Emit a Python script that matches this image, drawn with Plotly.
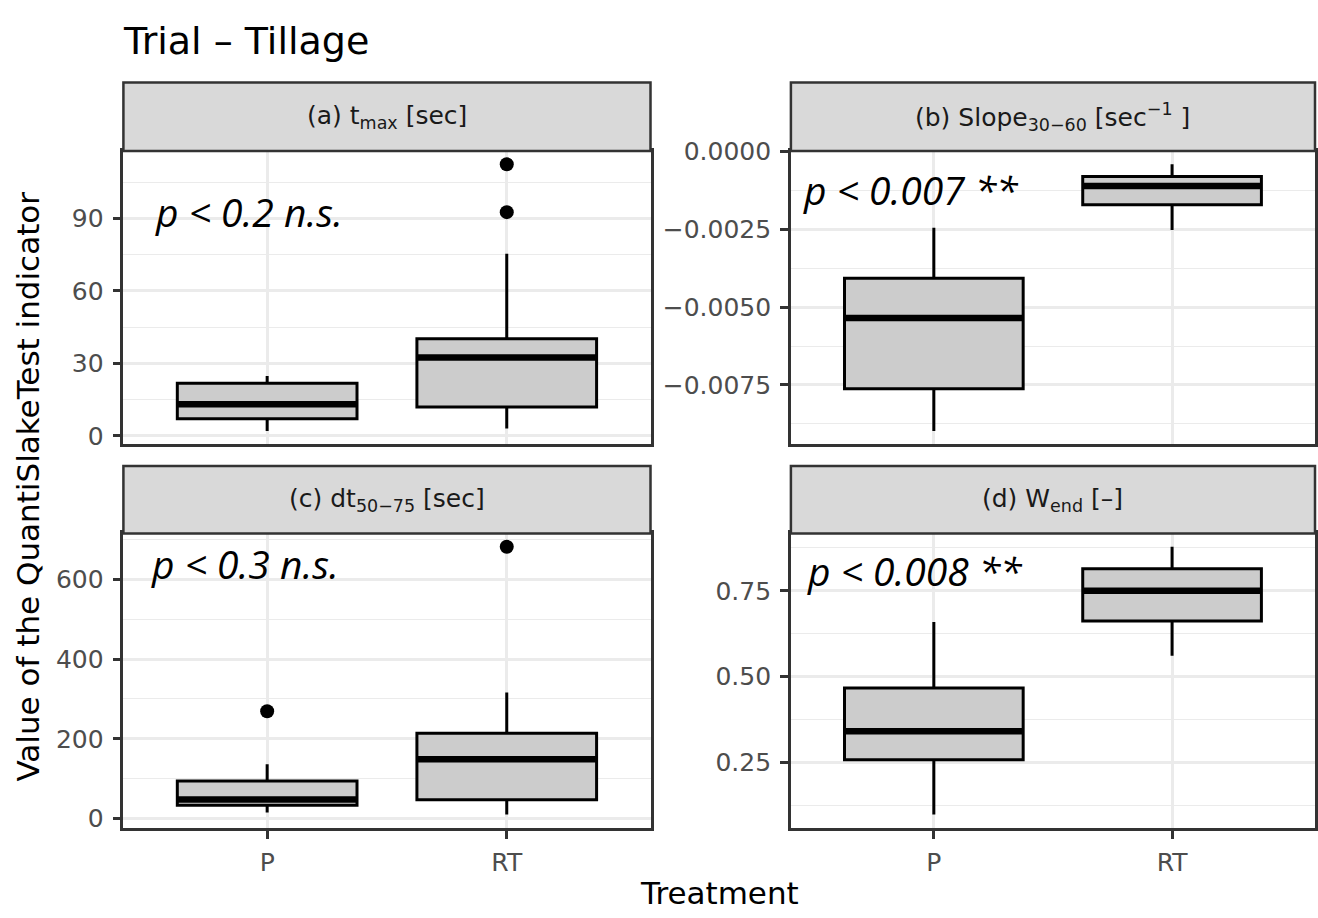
import plotly.graph_objects as go

# ---------------- data ----------------
categories = ["P", "RT"]

panel_titles = [
    "(a) t<sub>max</sub> [sec]",
    "(b) Slope<sub>30−60</sub> [sec<sup>−1</sup> ]",
    "(c) dt<sub>50−75</sub> [sec]",
    "(d) W<sub>end</sub> [–]",
]
p_labels = ["p < 0.2 n.s.", "p < 0.007 **", "p < 0.3 n.s.", "p < 0.008 **"]

# (a) t_max
tmax_lower = [2.0, 3.1]
tmax_q1 = [7.1, 12.0]
tmax_median = [13.1, 32.4]
tmax_q3 = [21.8, 40.2]
tmax_upper = [24.8, 75.4]
tmax_out_cat = ["RT", "RT"]
tmax_out_val = [92.6, 112.4]

# (b) Slope 30-60
slope_lower = [-0.00898, -0.00252]
slope_q1 = [-0.00762, -0.00171]
slope_median = [-0.00535, -0.00111]
slope_q3 = [-0.00407, -0.00080]
slope_upper = [-0.00245, -0.00041]
slope_out_cat = []
slope_out_val = []

# (c) dt 50-75
dt_lower = [14.7, 9.8]
dt_q1 = [32.7, 46.5]
dt_median = [47.3, 148.6]
dt_q3 = [93.9, 214.0]
dt_upper = [136.0, 316.0]
dt_out_cat = ["P", "RT"]
dt_out_val = [269.0, 682.0]

# (d) W_end
wend_lower = [0.099, 0.561]
wend_q1 = [0.258, 0.662]
wend_median = [0.341, 0.750]
wend_q3 = [0.467, 0.814]
wend_upper = [0.659, 0.878]
wend_out_cat = []
wend_out_val = []

# tick labels
tmax_tickvals = [0, 30, 60, 90]
tmax_ticktext = ["0", "30", "60", "90"]
tmax_minor = [15, 45, 75, 105]
slope_tickvals = [0.0, -0.0025, -0.0050, -0.0075]
slope_ticktext = ["0.0000", "−0.0025", "−0.0050", "−0.0075"]
slope_minor = [-0.00125, -0.00375, -0.00625, -0.00875]
dt_tickvals = [0, 200, 400, 600]
dt_ticktext = ["0", "200", "400", "600"]
dt_minor = [100, 300, 500, 700]
wend_tickvals = [0.25, 0.50, 0.75]
wend_ticktext = ["0.25", "0.50", "0.75"]
wend_minor = [0.125, 0.375, 0.625, 0.875]

title_text = "Trial – Tillage"
y_title = "Value of the QuantiSlakeTest indicator"
x_title = "Treatment"

panels = [
    dict(lo=tmax_lower, q1=tmax_q1, med=tmax_median, q3=tmax_q3, hi=tmax_upper,
         oc=tmax_out_cat, ov=tmax_out_val, tv=tmax_tickvals, tt=tmax_ticktext, mn=tmax_minor),
    dict(lo=slope_lower, q1=slope_q1, med=slope_median, q3=slope_q3, hi=slope_upper,
         oc=slope_out_cat, ov=slope_out_val, tv=slope_tickvals, tt=slope_ticktext, mn=slope_minor),
    dict(lo=dt_lower, q1=dt_q1, med=dt_median, q3=dt_q3, hi=dt_upper,
         oc=dt_out_cat, ov=dt_out_val, tv=dt_tickvals, tt=dt_ticktext, mn=dt_minor),
    dict(lo=wend_lower, q1=wend_q1, med=wend_median, q3=wend_q3, hi=wend_upper,
         oc=wend_out_cat, ov=wend_out_val, tv=wend_tickvals, tt=wend_ticktext, mn=wend_minor),
]

# ---------------- layout geometry (pixels) ----------------
W, H = 1318, 918
col_px = [(123.5, 651.0), (791.5, 1316.0)]
row_plot_px = [(140.0, 440.0), (531.0, 832.0)]
row_strip_px = [(70.0, 140.0), (462.0, 531.0)]
p_pos = [(0.056, 0.793), (0.019, 0.867), (0.048, 0.897), (0.026, 0.874)]

def fx(px):
    return px / W

def fy(py):
    return 1 - py / H

BOX_W = 0.75
GRID = "#ebebeb"
BORDER = "#333333"
SANS = "DejaVu Sans, Liberation Sans, Arial, sans-serif"
TICKFONT = dict(family=SANS, size=25, color="#4d4d4d")

fig = go.Figure()
layout = dict(
    width=W, height=H,
    margin=dict(l=0, r=0, t=0, b=0),
    paper_bgcolor="white", plot_bgcolor="white",
    showlegend=False,
    shapes=[], annotations=[],
)

for k, p in enumerate(panels):
    r, c = divmod(k, 2)
    ax = "" if k == 0 else str(k + 1)
    xref, yref = "x" + ax, "y" + ax
    xs = list(range(len(categories)))

    fig.add_trace(go.Box(
        x=xs, q1=p["q1"], median=p["med"], q3=p["q3"],
        lowerfence=p["lo"], upperfence=p["hi"],
        orientation="v", width=BOX_W, whiskerwidth=0,
        fillcolor="#cccccc", line=dict(color="black", width=3),
        boxpoints=False, hoverinfo="skip",
        xaxis=xref, yaxis=yref,
    ))
    mx, my = [], []
    for i, m in enumerate(p["med"]):
        mx += [i - BOX_W / 2, i + BOX_W / 2, None]
        my += [m, m, None]
    fig.add_trace(go.Scatter(x=mx, y=my, mode="lines",
                             line=dict(color="black", width=6.5),
                             hoverinfo="skip", xaxis=xref, yaxis=yref))
    if p["ov"]:
        fig.add_trace(go.Scatter(
            x=[categories.index(cc) for cc in p["oc"]], y=p["ov"], mode="markers",
            marker=dict(color="black", size=14), hoverinfo="skip",
            xaxis=xref, yaxis=yref))

    allv = p["lo"] + p["hi"] + p["ov"]
    vmin, vmax = min(allv), max(allv)
    span = vmax - vmin
    yrange = [vmin - 0.05 * span, vmax + 0.05 * span]

    x0, x1 = col_px[c]
    top, bot = row_plot_px[r]
    stop, sbot = row_strip_px[r]
    bottom_row = (r == 1)

    layout["xaxis" + ax] = dict(
        domain=[fx(x0), fx(x1)], anchor=yref, range=[-0.6, 1.6],
        tickmode="array", tickvals=xs, ticktext=categories,
        showticklabels=bottom_row, ticks="outside" if bottom_row else "",
        ticklen=8, tickwidth=2.5, tickcolor=BORDER, tickfont=TICKFONT,
        ticklabelstandoff=2,
        showgrid=True, gridcolor=GRID, gridwidth=2.5, zeroline=False,
        showline=True, mirror=True, linecolor=BORDER, linewidth=2.5,
        fixedrange=True,
    )
    layout["yaxis" + ax] = dict(
        domain=[fy(bot), fy(top)], anchor=xref, range=yrange,
        tickmode="array", tickvals=p["tv"], ticktext=p["tt"],
        ticks="outside", ticklen=8, tickwidth=2.5, tickcolor=BORDER,
        tickfont=TICKFONT, ticklabelstandoff=4,
        showgrid=True, gridcolor=GRID, gridwidth=2.5, zeroline=False,
        minor=dict(tickmode="array", tickvals=p["mn"], showgrid=True,
                   gridcolor=GRID, gridwidth=1.3, ticks=""),
        showline=True, mirror=True, linecolor=BORDER, linewidth=2.5,
        fixedrange=True,
    )
    # strip
    layout["shapes"].append(dict(
        type="rect", xref="paper", yref="paper",
        x0=fx(x0), x1=fx(x1), y0=fy(sbot), y1=fy(stop),
        fillcolor="#d9d9d9", line=dict(color=BORDER, width=2.5)))
    layout["annotations"].append(dict(
        text=panel_titles[k], xref="paper", yref="paper",
        x=fx((x0 + x1) / 2), y=fy((stop + sbot) / 2),
        xanchor="center", yanchor="middle", showarrow=False,
        font=dict(family=SANS, size=25, color="#1a1a1a")))
    # p-value label
    px_, py_ = p_pos[k]
    layout["annotations"].append(dict(
        text=p_labels[k], xref=xref + " domain", yref=yref + " domain",
        x=px_, y=py_, xanchor="left", yanchor="middle", showarrow=False,
        font=dict(family="Open Sans, sans-serif", size=39, color="black", style="italic")))

# title and axis titles
layout["annotations"].append(dict(
    text=title_text, xref="paper", yref="paper", x=fx(121), y=fy(28),
    xanchor="left", yanchor="middle", showarrow=False,
    font=dict(family=SANS, size=38, color="black")))
layout["annotations"].append(dict(
    text=x_title, xref="paper", yref="paper", x=fx(720), y=fy(899),
    xanchor="center", yanchor="middle", showarrow=False,
    font=dict(family=SANS, size=31, color="black")))
layout["annotations"].append(dict(
    text=y_title, xref="paper", yref="paper", x=fx(28), y=fy(483),
    xanchor="center", yanchor="middle", showarrow=False, textangle=-90,
    font=dict(family=SANS, size=31, color="black")))

fig.update_layout(**layout)
fig.write_html(
    "out.html",
    config={"displayModeBar": False},
    post_script="document.body.style.margin='0';document.body.style.overflow='hidden';",
)
